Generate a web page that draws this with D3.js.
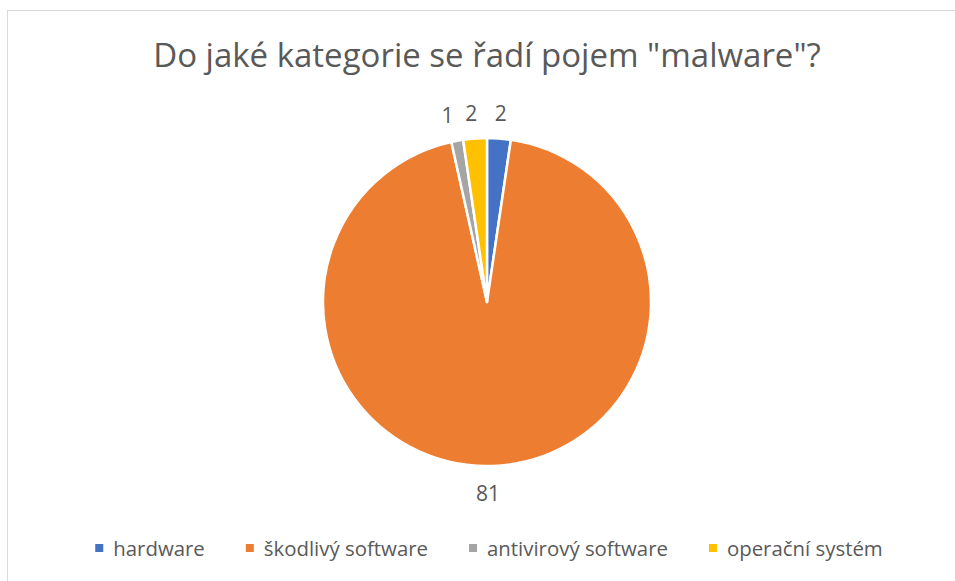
<!DOCTYPE html>
<html><head><meta charset="utf-8">
<script src="https://cdn.jsdelivr.net/npm/d3@7"></script>
<style>
html,body{margin:0;padding:0;background:#fff;}
svg{display:block;font-family:"Open Sans","Noto Sans",sans-serif;}
</style></head>
<body>
<svg id="chart" width="955" height="581"></svg>
<script>
const title = 'Do jaké kategorie se řadí pojem "malware"?';
const categories = ["hardware", "škodlivý software", "antivirový software", "operační systém"];
const values = [2, 81, 1, 2];
const colors = ["#4472C4", "#ED7D31", "#A5A5A5", "#FFC000"];

const svg = d3.select("#chart");
const W = 955, H = 581;
const textColor = "#595959";

svg.append("rect").attr("x", 7.5).attr("y", 10.5).attr("width", W).attr("height", H)
  .attr("fill", "#fff").attr("stroke", "#d9d9d9").attr("stroke-width", 1);

const t = svg.append("text").attr("x", 487).attr("y", 67).attr("text-anchor", "middle")
  .attr("fill", textColor).attr("font-size", 33).text(title);

const cx = 487, cy = 302, r = 164;
const color = d3.scaleOrdinal().domain(categories).range(colors);
const data = categories.map((c, i) => ({cat: c, value: values[i]}));
const pie = d3.pie().value(d => d.value).sort(null);
const arcs = pie(data);
const arc = d3.arc().innerRadius(0).outerRadius(r);
const g = svg.append("g").attr("transform", `translate(${cx},${cy})`);
g.selectAll("path").data(arcs).join("path")
  .attr("d", arc).attr("fill", d => color(d.data.cat))
  .attr("stroke", "#fff").attr("stroke-width", 2.5).attr("stroke-linejoin", "round");

const labelArc = d3.arc().innerRadius(190).outerRadius(190);
const nudges = [[0, 0], [-6, 1], [-5, 0], [-2, 0]];
g.selectAll("text.lbl").data(arcs).join("text").attr("class", "lbl")
  .attr("transform", (d, i) => {
    const [x, y] = labelArc.centroid(d);
    return `translate(${x + nudges[i][0]},${y + nudges[i][1]})`;
  })
  .attr("text-anchor", "middle").attr("dominant-baseline", "central")
  .attr("fill", textColor).attr("font-size", 21).text(d => d.data.value);

// legend
const lg = svg.append("g");
const items = lg.selectAll("g").data(categories).join("g");
items.append("rect").attr("width", 8).attr("height", 8).attr("y", -4).attr("fill", d => color(d));
items.append("text").attr("x", 18).attr("dominant-baseline", "central")
  .attr("fill", textColor).attr("font-size", 20.4).text(d => d);
let xpos = 0;
const gap = 41;
items.each(function() {
  const w = 18 + this.querySelector("text").getComputedTextLength();
  d3.select(this).attr("transform", `translate(${xpos},0)`);
  xpos += w + gap;
});
const total = xpos - gap;
lg.attr("transform", `translate(${489 - total / 2},548)`);
</script>
</body></html>
